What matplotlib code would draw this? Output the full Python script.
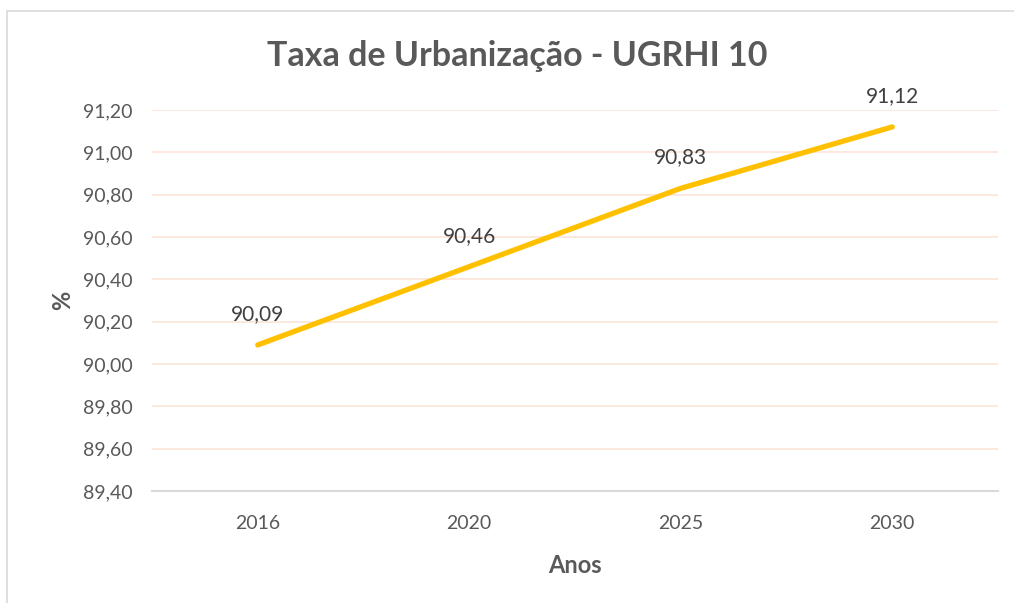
import matplotlib.pyplot as plt
from matplotlib.patches import Rectangle

anos = ["2016", "2020", "2025", "2030"]
taxa = [90.09, 90.46, 90.83, 91.12]
y_ticks = [89.40, 89.60, 89.80, 90.00, 90.20, 90.40, 90.60, 90.80, 91.00, 91.20]

plt.rcParams['font.family'] = ['Lato', 'DejaVu Sans']
text_color = "#595959"

fig = plt.figure(figsize=(10.14, 6.03), dpi=100)
ax = fig.add_axes([152 / 1014, 1 - 491 / 603, (998 - 152) / 1014, (491 - 110) / 603])

# chart frame
fig.patches.append(Rectangle((6.5 / 1014, -0.05), 1.1, 1 - 11.5 / 603 + 0.05,
                             transform=fig.transFigure, fill=False,
                             edgecolor="#d9d9d9", linewidth=1.2))

x = list(range(len(anos)))
ax.plot(x, taxa, color="#FFC000", linewidth=3.8, solid_capstyle="round", zorder=3)

for xi, v in zip(x, taxa):
    ax.annotate(f"{v:.2f}".replace(".", ","), (xi, v), xytext=(0, 15),
                textcoords="offset points", ha="center", va="bottom",
                fontsize=15, color="#404040")

ax.set_xlim(-0.5, len(anos) - 0.5)
ax.set_ylim(89.40, 91.20)
ax.set_xticks(x)
ax.set_xticklabels(anos)
ax.set_yticks(y_ticks)
ax.set_yticklabels([f"{t:.2f}".replace(".", ",") for t in y_ticks])
ax.tick_params(length=0, labelsize=14, colors=text_color)
ax.tick_params(axis="y", pad=14)
ax.tick_params(axis="x", pad=17)

ax.grid(axis="y", color="#FCE4D6", linewidth=1.2)
ax.set_axisbelow(True)
for side in ["top", "right", "left"]:
    ax.spines[side].set_visible(False)
ax.spines["bottom"].set_color("#d9d9d9")
ax.spines["bottom"].set_linewidth(1.5)

ax.set_xlabel("Anos", fontsize=17, fontweight="bold", color=text_color, labelpad=16)
ax.set_ylabel("%", fontsize=17, fontweight="bold", color=text_color, labelpad=6)
fig.text(517 / 1014, 1 - 56 / 603, "Taxa de Urbanização - UGRHI 10", ha="center",
         va="center", fontsize=24.5, fontweight="bold", color=text_color)

fig.savefig("out.png", dpi=100)
